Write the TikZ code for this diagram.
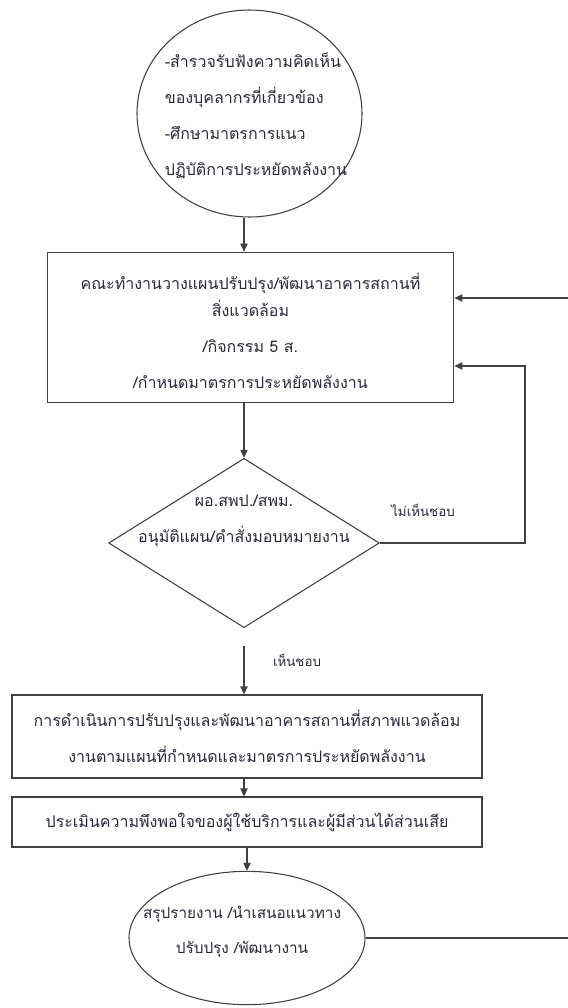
\documentclass[tikz,border=0pt]{standalone}
\usepackage{fontspec}
\newfontfamily\thaifont[Script=Thai]{Loma}
\usetikzlibrary{shapes.geometric,arrows.meta}
\definecolor{linegray}{HTML}{404040}
\definecolor{textgray}{HTML}{2A2A3A}

\begin{document}
\begin{tikzpicture}[x=0.75pt,y=-0.75pt,
  main node/.style={draw=linegray,line width=0.8pt,font=\thaifont\fontsize{12}{27}\selectfont,
    text=textgray,align=center,inner sep=0pt},
  box node/.style={main node,rectangle},
  text node/.style={font=\thaifont\fontsize{12}{27}\selectfont,text=textgray,align=center,inner sep=0pt},
  tag/.style={font=\thaifont\fontsize{10}{12}\selectfont,text=textgray},
  link/.style={draw=linegray,line width=0.8pt},
  flow/.style={link,-{Triangle[length=6pt,width=5.5pt]}}]

  \useasboundingbox (0,0) rectangle (568,1008);

  \node[main node,ellipse,minimum width=168.75pt,minimum height=155.25pt] (survey) at (249.5,113.5) {};
  \node[text node,align=left] (surveytext) at (256,116)
    {-สำรวจรับฟังความคิดเห็น\\ของบุคลากรที่เกี่ยวข้อง\\-ศึกษามาตรการแนว\\ปฏิบัติการประหยัดพลังงาน};
  \node[box node,minimum width=305pt,minimum height=113pt] (plan) at (250.5,327.5)
    {\rule{0pt}{17pt}คณะทำงานวางแผนปรับปรุง/พัฒนาอาคารสถานที่\\[-6.75pt]สิ่งแวดล้อม\\/กิจกรรม 5 ส.\\/กำหนดมาตรการประหยัดพลังงาน};
  \node[main node,diamond,minimum width=203pt,minimum height=127pt] (approve) at (244,543) {};
  \node[text node] (approvetext) at (244,521) {ผอ.สพป./สพม.\\อนุมัติแผน/คำสั่งมอบหมายงาน};
  \node[box node,minimum width=352.5pt,minimum height=62.25pt] (work) at (247,736.5)
    {การดำเนินการปรับปรุงและพัฒนาอาคารสถานที่สภาพแวดล้อม\\งานตามแผนที่กำหนดและมาตรการประหยัดพลังงาน};
  \node[box node,minimum width=352.5pt,minimum height=37.5pt] (assess) at (247,822)
    {ประเมินความพึงพอใจของผู้ใช้บริการและผู้มีส่วนได้ส่วนเสีย};
  \node[main node,ellipse,minimum width=177pt,minimum height=100pt] (report) at (247,938) {};
  \node[text node,font=\thaifont\fontsize{11.5}{26}\selectfont] (reporttext) at (242,932)
    {สรุปรายงาน /นำเสนอแนวทาง\\ปรับปรุง /พัฒนางาน};

  \node[tag] (nolabel) at (423,510) {ไม่เห็นชอบ};
  \node[tag] (yeslabel) at (297,660) {เห็นชอบ};

  \coordinate (noturn) at (525,366);
  \coordinate (backin) at (568,298);
  \coordinate (backout) at (568,938);

  \draw[flow] (survey.south -| approve.north) -- (approve.north |- plan.north);
  \draw[flow] (approve.north |- plan.south) -- (approve.north);
  \draw[flow,shorten <=13pt] (approve.south) -- (approve.south |- work.north);
  \draw[flow] (work.south -| approve.south) -- (assess.north -| approve.south);
  \draw[flow] (assess.south -| report.north) -- (report.north);
  \draw[flow] (approve.east) -| (noturn) -- (noturn -| plan.east);
  \draw[flow] (backin) -- (backin -| plan.east);
  \draw[link] (report.east) -- (backout);
\end{tikzpicture}
\end{document}
